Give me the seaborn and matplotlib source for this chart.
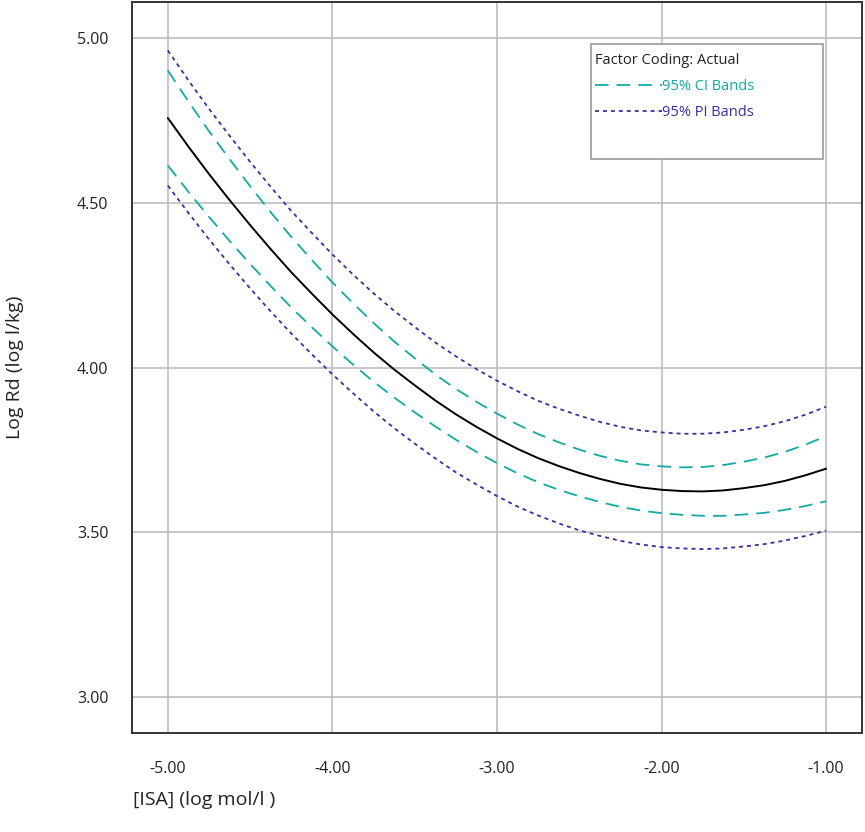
import matplotlib
matplotlib.use("Agg")
import matplotlib.pyplot as plt
import seaborn as sns
import pandas as pd
from matplotlib.lines import Line2D
from matplotlib.patches import Rectangle

# ---- data ----
isa = [-5.000, -4.875, -4.750, -4.625, -4.500, -4.375, -4.250, -4.125,
       -4.000, -3.875, -3.750, -3.625, -3.500, -3.375, -3.250, -3.125,
       -3.000, -2.875, -2.750, -2.625, -2.500, -2.375, -2.250, -2.125,
       -2.000, -1.875, -1.750, -1.625, -1.500, -1.375, -1.250, -1.125,
       -1.000]
fit = [4.757, 4.670, 4.587, 4.508, 4.432, 4.359, 4.289, 4.224,
       4.161, 4.102, 4.046, 3.994, 3.946, 3.900, 3.858, 3.820,
       3.785, 3.753, 3.725, 3.701, 3.680, 3.662, 3.647, 3.636,
       3.629, 3.625, 3.624, 3.627, 3.634, 3.643, 3.656, 3.673,
       3.693]
ci_upper = [4.901, 4.807, 4.717, 4.632, 4.550, 4.471, 4.396, 4.326,
            4.258, 4.195, 4.135, 4.079, 4.028, 3.979, 3.935, 3.896,
            3.860, 3.827, 3.798, 3.773, 3.751, 3.732, 3.717, 3.706,
            3.700, 3.697, 3.698, 3.704, 3.714, 3.727, 3.744, 3.766,
            3.792]
ci_lower = [4.613, 4.533, 4.457, 4.384, 4.314, 4.247, 4.182, 4.122,
            4.064, 4.009, 3.957, 3.909, 3.864, 3.821, 3.781, 3.744,
            3.710, 3.679, 3.652, 3.629, 3.609, 3.592, 3.577, 3.566,
            3.558, 3.553, 3.550, 3.550, 3.554, 3.559, 3.568, 3.580,
            3.594]
pi_upper = [4.962, 4.871, 4.785, 4.703, 4.624, 4.548, 4.475, 4.408,
            4.343, 4.282, 4.225, 4.172, 4.123, 4.076, 4.034, 3.995,
            3.960, 3.928, 3.899, 3.875, 3.854, 3.835, 3.820, 3.809,
            3.803, 3.799, 3.799, 3.803, 3.811, 3.822, 3.837, 3.857,
            3.881]
pi_lower = [4.552, 4.469, 4.389, 4.313, 4.240, 4.170, 4.103, 4.040,
            3.979, 3.922, 3.867, 3.816, 3.769, 3.724, 3.682, 3.645,
            3.610, 3.578, 3.551, 3.527, 3.506, 3.489, 3.474, 3.463,
            3.455, 3.451, 3.449, 3.451, 3.457, 3.464, 3.475, 3.489,
            3.505]

x_ticks = [-5.0, -4.0, -3.0, -2.0, -1.0]
x_tick_labels = ["-5.00", "-4.00", "-3.00", "-2.00", "-1.00"]
y_ticks = [3.0, 3.5, 4.0, 4.5, 5.0]
y_tick_labels = ["3.00", "3.50", "4.00", "4.50", "5.00"]

legend_title = "Factor Coding: Actual"
ci_label = "95% CI Bands"
pi_label = "95% PI Bands"
x_label = "[ISA] (log mol/l )"
y_label = "Log Rd (log l/kg)"

# ---- style ----
sns.set_style("white")
plt.rcParams['font.family'] = ['Open Sans', 'DejaVu Sans']

CI_COLOR = "#12A9A6"
PI_COLOR = "#3B2FA3"
CI_DASH = (0, (7.5, 4.5))
PI_DASH = (0, (2.2, 2.2))

fig = plt.figure(figsize=(8.65, 8.32), dpi=100)
ax = fig.add_axes([132/865, 1-733/832, 730/865, 731/832])

df = pd.DataFrame({"isa": isa, "fit": fit, "ciu": ci_upper, "cil": ci_lower,
                   "piu": pi_upper, "pil": pi_lower})

sns.lineplot(data=df, x="isa", y="piu", ax=ax, color=PI_COLOR, lw=1.3,
             linestyle=PI_DASH, zorder=3)
sns.lineplot(data=df, x="isa", y="pil", ax=ax, color=PI_COLOR, lw=1.3,
             linestyle=PI_DASH, zorder=3)
sns.lineplot(data=df, x="isa", y="ciu", ax=ax, color=CI_COLOR, lw=1.3,
             linestyle=CI_DASH, zorder=3)
sns.lineplot(data=df, x="isa", y="cil", ax=ax, color=CI_COLOR, lw=1.3,
             linestyle=CI_DASH, zorder=3)
sns.lineplot(data=df, x="isa", y="fit", ax=ax, color="black", lw=1.4, zorder=4)

ax.set_xlim(-5.218, -0.782)
ax.set_ylim(2.891, 5.109)
ax.set_xticks(x_ticks)
ax.set_xticklabels(x_tick_labels)
ax.set_yticks(y_ticks)
ax.set_yticklabels(y_tick_labels)
ax.grid(True, color="#BDBDBD", lw=1.2)
ax.set_axisbelow(True)
for s in ax.spines.values():
    s.set_color("#333333")
    s.set_linewidth(1.4)
ax.tick_params(axis="both", direction="out", length=13, width=1.2,
               color="#333333", labelsize=11.5, labelcolor="#222222")
ax.tick_params(axis="x", pad=7)
ax.tick_params(axis="y", pad=4)
ax.set_xlabel("")
ax.set_ylabel("")

fig.text(133/865, 1-800/832, x_label, ha="left", va="center", fontsize=14,
         color="#222222")
fig.text(15/865, 1-367/832, y_label, ha="center", va="center", rotation=90,
         fontsize=14, color="#222222")

# legend box
box_l, box_r = (591-132)/730, (823-132)/730
box_t, box_b = 1-(44-2)/731, 1-(159-2)/731
ax.add_patch(Rectangle((box_l, box_b), box_r-box_l, box_t-box_b,
                       transform=ax.transAxes, facecolor="white",
                       edgecolor="#9A9A9A", lw=1.2, zorder=5))
handles = [Line2D([], [], color=CI_COLOR, lw=1.3, linestyle=CI_DASH),
           Line2D([], [], color=PI_COLOR, lw=1.3, linestyle=PI_DASH)]
leg = ax.legend(handles, [ci_label, pi_label], title=legend_title,
                loc="upper left", bbox_to_anchor=(box_l - 0.010, box_t + 0.004),
                frameon=False, fontsize=10.5, title_fontsize=10.5,
                handlelength=4.6, handletextpad=0.0, labelspacing=0.75,
                borderpad=0.3, alignment="left")
for t, c in zip(leg.get_texts(), [CI_COLOR, PI_COLOR]):
    t.set_color(c)
leg.get_title().set_color("#222222")
leg.set_zorder(6)

fig.savefig("out.png", dpi=100)
